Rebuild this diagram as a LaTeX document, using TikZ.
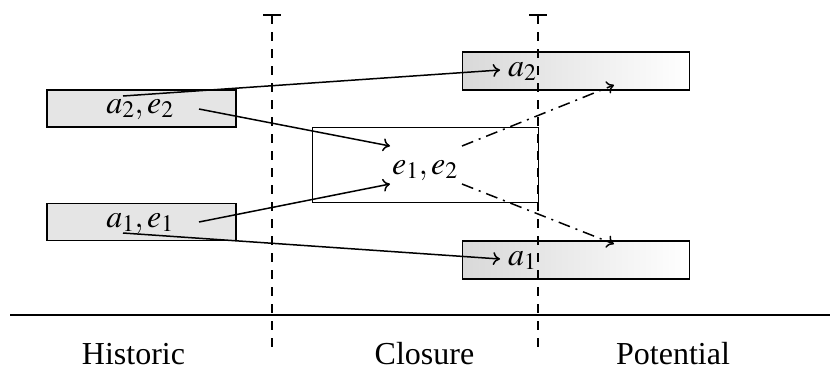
\documentclass[tikz,border=0pt]{standalone}
\usepackage{mathptmx}
\usepackage{fontspec}
\setmainfont{Liberation Serif}
\usetikzlibrary{arrows.meta}
\begin{document}
\begin{tikzpicture}[x=1pt,y=-1pt,
  txt/.style={font=\fontsize{32}{36}\selectfont, inner sep=0pt, anchor=base},
  histbox/.style={draw, line width=1.6pt, fill=black!10,
    minimum width=189pt, minimum height=37pt, inner sep=0pt},
  potbox/.style={draw, line width=1.6pt, left color=black!15, right color=white,
    minimum width=227pt, minimum height=38pt, inner sep=0pt},
  closebox/.style={draw, line width=0.8pt, minimum width=226pt,
    minimum height=75pt, inner sep=0pt},
  divider/.style={line width=1.6pt, dash pattern=on 9pt off 8pt,
    {Bar[width=18pt,line width=1.6pt]}-},
  flow/.style={line width=1.5pt, -{To[length=7pt,width=13pt]}},
  proj/.style={line width=1.5pt, dash pattern=on 12pt off 6pt on 2pt off 6pt,
    -{To[length=7pt,width=13pt]}}]
\useasboundingbox (0,0) rectangle (830,368);

% baseline of the time axis
\draw[line width=1.6pt] (10,315) coordinate (axL) -- (830,315) coordinate (axR);

% historic boxes
\node[histbox] (h2) at (141.5,108.5) {};
\node[txt] (h2t) at (140,113) {$a_2, e_2$};
\node[histbox] (h1) at (141.5,222) {};
\node[txt] (h1t) at (140,227) {$a_1, e_1$};

% potential boxes
\node[potbox] (p2) at (576,71) {};
\node[txt, anchor=base west] (p2t) at (508,76) {$a_2$};
\node[potbox] (p1) at (576,260) {};
\node[txt, anchor=base west] (p1t) at (508,265) {$a_1$};

% closure box
\node[closebox] (cl) at (425,165) {};
\node[txt] (clt) at (425,174) {$e_1, e_2$};

% section dividers
\coordinate (d1t) at (272,14);
\coordinate (d1b) at (272,355);
\coordinate (d2t) at (538,14);
\coordinate (d2b) at (538,355);
\draw[divider] (d1t) -- (d1b);
\draw[divider] (d2t) -- (d2b);

% connector end points
\coordinate (s1) at (123,96);
\coordinate (s2) at (199,109);
\coordinate (s3) at (199,222);
\coordinate (s4) at (123,233);
\coordinate (ea2) at (500,70);
\coordinate (ee1) at (390,146);
\coordinate (ee2) at (390,184);
\coordinate (ea1) at (500,259);
\coordinate (q1) at (462,146);
\coordinate (q2) at (462,184);
\coordinate (r1) at (614,85);
\coordinate (r2) at (614,244);

\draw[flow] (s1) -- (ea2);
\draw[flow] (s2) -- (ee1);
\draw[flow] (s3) -- (ee2);
\draw[flow] (s4) -- (ea1);
\draw[proj] (q1) -- (r1);
\draw[proj] (q2) -- (r2);

% section labels
\node[txt] (lh) at (133.5,364) {Historic};
\node[txt] (lc) at (424.5,364) {Closure};
\node[txt] (lp) at (673,364) {Potential};
\end{tikzpicture}
\end{document}
